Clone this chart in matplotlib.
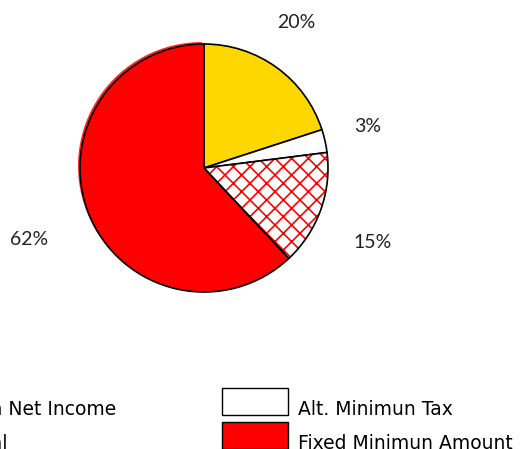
import matplotlib
matplotlib.use("Agg")
import matplotlib.pyplot as plt
from matplotlib.patches import Patch, Wedge, Rectangle
from matplotlib.legend_handler import HandlerPatch
import numpy as np

plt.rcParams['font.family'] = ['Lato', 'DejaVu Sans']
plt.rcParams['hatch.linewidth'] = 1.2

# Tax breakdown shares (percent)
categories = ["Tax on Net Income", "Alt. Minimun Tax", "Capital", "Fixed Minimun Amount"]
shares = [20, 3, 15, 62]
colors = ["#FFD700", "#FFFFFF", "#FFFFFF", "#FF0000"]
hatches = [None, None, "xx", None]
hatch_color = "#FF0000"

# label placement around the pie: (angle in degrees, distance in radii)
label_spots = [(57.8, 1.39), (14.4, 1.36), (-23.9, 1.49), (-157.8, 1.52)]

W, H = 524, 449
DPI = 100
fig = plt.figure(figsize=(W / DPI, H / DPI), dpi=DPI)
ax = fig.add_axes([0, 0, 1, 1])

cx_px, cy_px, r_px = 204, 168, 124

wedges, _ = ax.pie(shares, colors=colors, startangle=90, counterclock=False,
                   radius=1, center=(0, 0), frame=True,
                   wedgeprops=dict(edgecolor="black", linewidth=1.2))
ax.set_xlim(-cx_px / r_px, (W - cx_px) / r_px)
ax.set_ylim(-(H - cy_px) / r_px, cy_px / r_px)
ax.set_aspect("auto")
ax.axis("off")

# hatched wedge: red hatch lines, black outline drawn on top
for w, h in zip(wedges, hatches):
    if h:
        w.set_hatch(h)
        w.set_edgecolor(hatch_color)
        w.set_linewidth(0)
        outline = Wedge(w.center, w.r, w.theta1, w.theta2, fill=False,
                        edgecolor="black", linewidth=1.2, zorder=w.get_zorder() + 0.1)
        ax.add_patch(outline)

# soft red spill along the large slice's rim
big = wedges[-1]
spill = Wedge((big.center[0] - 0.016, big.center[1] + 0.016), big.r, big.theta1, big.theta2,
              facecolor="#FF0000", edgecolor="none", zorder=big.get_zorder() - 0.5, alpha=0.85)
ax.add_patch(spill)

for s, (ang, dist) in zip(shares, label_spots):
    a = np.deg2rad(ang)
    ax.text(dist * np.cos(a), dist * np.sin(a), f"{s}%", ha="center", va="center",
            fontsize=14, color="#222222")

fs = 13.5
px = 72 / DPI  # points per pixel
swatch_w, swatch_h = 66 * px, 27 * px


def swatch(legend, orig_handle, xdescent, ydescent, width, height, fontsize):
    # swatch sits on the text baseline
    return Rectangle((-xdescent, 0), swatch_w, swatch_h)


def legend_handle(i):
    return Patch(facecolor=colors[i], edgecolor=hatch_color if hatches[i] else "black",
                 hatch=hatches[i], linewidth=1.0)


common = dict(frameon=False, prop={"family": "DejaVu Sans", "size": fs},
              borderpad=0, borderaxespad=0,
              handlelength=swatch_w / fs, handleheight=1.44, labelspacing=0.64,
              handletextpad=0.55,
              handler_map={Patch: HandlerPatch(patch_func=swatch)})

top = 1 - 398 / H
left = fig.legend([legend_handle(0), legend_handle(2)], [categories[0], categories[2]],
                  loc="upper right", bbox_to_anchor=(116 / W, top), **common)
right = fig.legend([legend_handle(1), legend_handle(3)], [categories[1], categories[3]],
                   loc="upper left", bbox_to_anchor=(222 / W, top), **common)

fig.savefig("out.png", dpi=DPI)
